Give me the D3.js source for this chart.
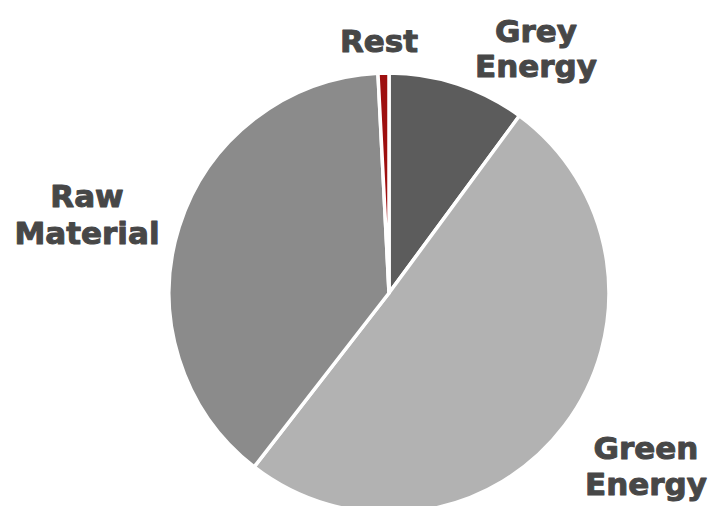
<!DOCTYPE html>
<html><head><meta charset="utf-8">
<script src="https://cdn.jsdelivr.net/npm/d3@7"></script>
<style>html,body{margin:0;padding:0;background:#fff;}svg{display:block;}</style>
</head><body>
<svg id="chart" width="712" height="506"></svg>
<script>
const categories = ["Grey Energy", "Green Energy", "Raw Material", "Rest"];
const values = [10.1, 50.4, 38.7, 0.8];
const colors = ["#5c5c5c", "#b2b2b2", "#8b8b8b", "#9e1010"];
const labelLines = [["Grey", "Energy"], ["Green", "Energy"], ["Raw", "Material"], ["Rest"]];

const svg = d3.select("#chart");
const W = 712, H = 506;
const cx = 389, cy = 293, R = 220;

const pie = d3.pie().sort(null).value(d => d)(values);
const arc = d3.arc().innerRadius(0).outerRadius(R);

const g = svg.append("g").attr("transform", `translate(${cx},${cy})`);
g.selectAll("path").data(pie).join("path")
  .attr("d", arc)
  .attr("fill", (d, i) => colors[i])
  .attr("stroke", "#fff")
  .attr("stroke-width", 3.5)
  .attr("stroke-linejoin", "round");

// label placement (annotation layout)
const labelLayout = [
  {x: 536, y: 42, lh: 35},
  {x: 646, y: 459, lh: 36},
  {x: 87, y: 207, lh: 37},
  {x: 379, y: 52, lh: 35}
];
labelLines.forEach((lines, i) => {
  const L = labelLayout[i];
  const t = svg.append("text")
    .attr("text-anchor", "middle")
    .attr("font-family", "'DejaVu Sans', sans-serif")
    .attr("font-weight", "bold")
    .attr("font-size", 31)
    .attr("fill", "#474747")
    .attr("stroke", "#474747")
    .attr("stroke-width", 1)
    .attr("stroke-linejoin", "round");
  lines.forEach((s, j) => {
    t.append("tspan")
      .attr("x", L.x)
      .attr("y", L.y + j * L.lh)
      .text(s);
  });
});
</script>
</body></html>
